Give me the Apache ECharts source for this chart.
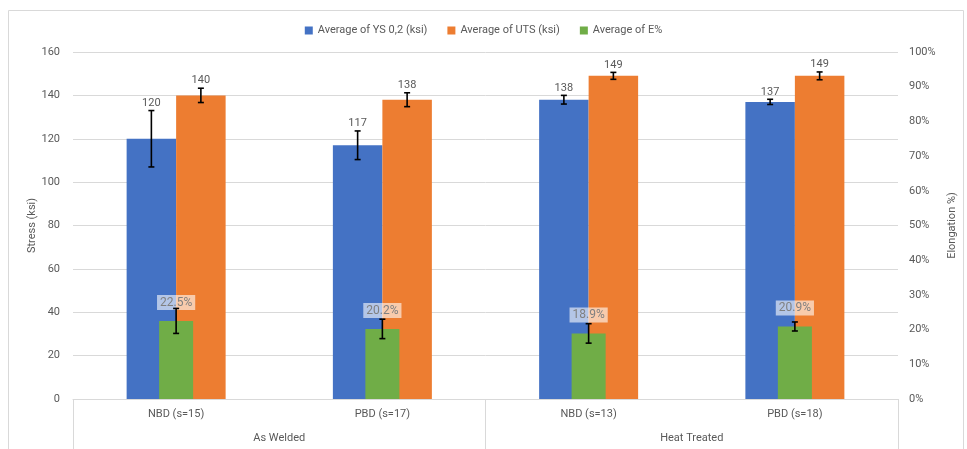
<!DOCTYPE html>
<html>
<head>
<meta charset="utf-8">
<script src="https://cdn.jsdelivr.net/npm/echarts@6/dist/echarts.min.js"></script>
<style>html,body{margin:0;padding:0;background:#fff;}#c{width:967px;height:449px;}</style>
</head>
<body>
<div id="c"></div>
<script>
var categories = ['NBD (s=15)', 'PBD (s=17)', 'NBD (s=13)', 'PBD (s=18)'];
var groups = ['As Welded', 'Heat Treated'];
var ysValues = [120, 117, 138, 137];
var ysErr = [13, 6.6, 2, 1.2];
var utsValues = [140, 138, 149, 149];
var utsErr = [3.3, 3.2, 1.6, 1.8];
var eValues = [22.5, 20.2, 18.9, 20.9];
var eErr = [3.6, 2.8, 2.8, 1.3];
var seriesNames = ['Average of YS 0,2 (ksi)', 'Average of UTS (ksi)', 'Average of E%'];

var FONT = 'Roboto, "Liberation Sans", sans-serif';
var TXT = '#595959';
var GRIDC = '#d9d9d9';
var BAR_FRAC = 0.48; // fraction of band occupied by blue+orange

function errRender(values, errs, side, withLabel) {
  return function (params, api) {
    var i = params.dataIndex;
    var band = api.size([1, 0])[0];
    var w = band * BAR_FRAC / 2;
    var off = side * w / 2;
    var c = api.coord([i, values[i]]);
    var top = api.coord([i, values[i] + errs[i]]);
    var bot = api.coord([i, values[i] - errs[i]]);
    var x = c[0] + off;
    var cap = 3;
    var st = { stroke: '#000', lineWidth: 1.6 };
    var children = [
      { type: 'line', shape: { x1: x, y1: top[1], x2: x, y2: bot[1] }, style: st },
      { type: 'line', shape: { x1: x - cap, y1: top[1], x2: x + cap, y2: top[1] }, style: st },
      { type: 'line', shape: { x1: x - cap, y1: bot[1], x2: x + cap, y2: bot[1] }, style: st }
    ];
    if (withLabel) {
      children.push({ type: 'text', style: { text: String(values[i]), x: x, y: top[1] - 2, align: 'center', verticalAlign: 'bottom', fill: TXT, font: '11px ' + FONT } });
    }
    return { type: 'group', children: children };
  };
}

var chart = echarts.init(document.getElementById('c'));
chart.setOption({
  animation: false,
  textStyle: { fontFamily: FONT },
  graphic: [{ type: 'rect', left: 6, top: 8, shape: { width: 955, height: 460 }, style: { fill: 'none', stroke: GRIDC, lineWidth: 1 }, silent: true }],
  legend: {
    data: seriesNames,
    top: 20, left: 'center',
    itemWidth: 8, itemHeight: 8, itemGap: 20,
    icon: 'rect',
    textStyle: { color: TXT, fontSize: 11, fontFamily: FONT }
  },
  grid: { left: 73, right: 69, top: 52, bottom: 50 },
  xAxis: [
    { type: 'category', data: categories, position: 'bottom',
      axisLine: { show: true, lineStyle: { color: GRIDC } }, axisTick: { show: false },
      axisLabel: { color: TXT, fontSize: 11, margin: 10, interval: 0 } },
    { type: 'category', data: categories, show: false },
    { type: 'category', data: groups, position: 'bottom',
      axisLine: { show: false },
      axisTick: { show: true, length: 52, interval: 0, lineStyle: { color: GRIDC } },
      axisLabel: { color: TXT, fontSize: 11, margin: 34, interval: 0 } }
  ],
  yAxis: [
    { type: 'value', min: 0, max: 160, interval: 20, name: 'Stress (ksi)', nameLocation: 'middle', nameGap: 35,
      nameMoveOverlap: false,
      nameTextStyle: { color: TXT, fontSize: 11 },
      axisLine: { show: false }, axisTick: { show: false },
      axisLabel: { color: TXT, fontSize: 11, margin: 13 },
      splitLine: { lineStyle: { color: GRIDC } } },
    { type: 'value', min: 0, max: 100, interval: 10, name: 'Elongation %)', nameLocation: 'middle', nameGap: 49,
      nameMoveOverlap: false,
      nameTextStyle: { color: TXT, fontSize: 11 },
      axisLine: { show: false }, axisTick: { show: false },
      axisLabel: { color: TXT, fontSize: 11, margin: 11, formatter: '{value}%' },
      splitLine: { show: false } }
  ],
  series: [
    { name: seriesNames[0], type: 'bar', data: ysValues, xAxisIndex: 0, yAxisIndex: 0,
      itemStyle: { color: '#4472C4' }, barGap: '0%', barCategoryGap: '52%' },
    { name: seriesNames[1], type: 'bar', data: utsValues, xAxisIndex: 0, yAxisIndex: 0,
      itemStyle: { color: '#ED7D31' }, barGap: '0%', barCategoryGap: '52%' },
    { name: seriesNames[2], type: 'bar', data: eValues, xAxisIndex: 1, yAxisIndex: 1,
      itemStyle: { color: '#70AD47' }, barWidth: '16.5%', z: 3,
      label: { show: true, position: 'top', distance: 11, formatter: '{c}%', color: '#808080', fontSize: 12,
        backgroundColor: 'rgba(255,255,255,0.6)', padding: [2, 3, 1, 3] } },
    { type: 'custom', xAxisIndex: 0, yAxisIndex: 0, data: ysValues, renderItem: errRender(ysValues, ysErr, -1, true), z: 5, silent: true },
    { type: 'custom', xAxisIndex: 0, yAxisIndex: 0, data: utsValues, renderItem: errRender(utsValues, utsErr, 1, true), z: 5, silent: true },
    { type: 'custom', xAxisIndex: 1, yAxisIndex: 1, data: eValues, renderItem: errRender(eValues, eErr, 0, false), z: 6, silent: true }
  ]
});
</script>
</body>
</html>
